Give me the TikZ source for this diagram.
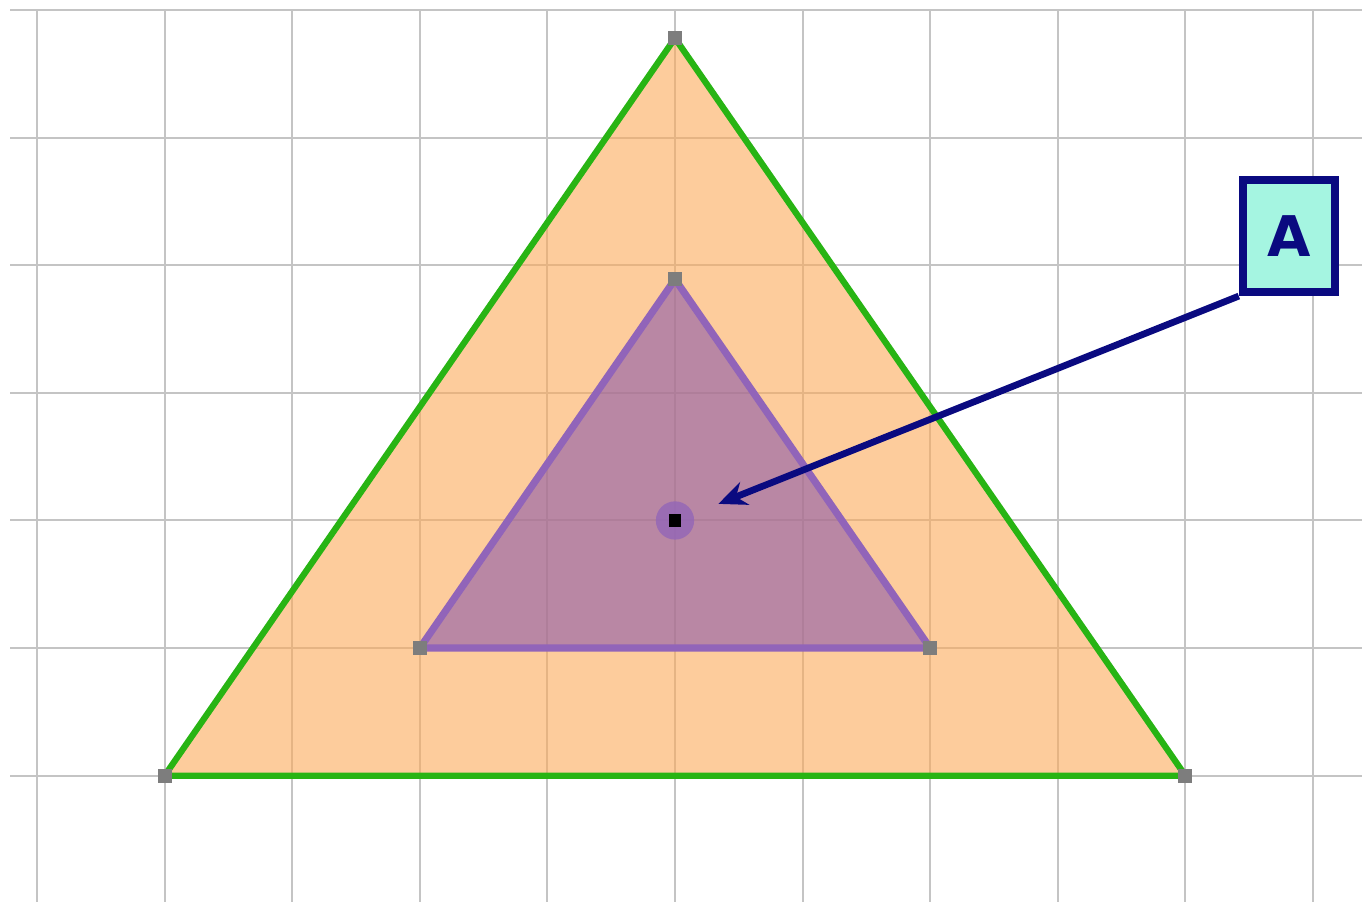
\documentclass[tikz,border=0pt]{standalone}
\usepackage{fontspec}
\newfontfamily\labelfont{DejaVu Sans}
\usetikzlibrary{arrows.meta,calc}
\definecolor{GridGrey}{RGB}{196,196,196}
\definecolor{PeachFill}{RGB}{252,170,90}
\definecolor{EdgeGreen}{RGB}{40,180,20}
\definecolor{MauveFill}{RGB}{140,90,170}
\definecolor{MauveEdge}{RGB}{145,100,185}
\definecolor{NavyLine}{RGB}{10,10,128}
\definecolor{AquaBox}{RGB}{165,245,225}
\definecolor{VertexGrey}{RGB}{125,125,125}

\begin{document}
\begin{tikzpicture}[x=1cm, y=1cm,
  gridline/.style={GridGrey, line width=0.45pt},
  vertex/.style={fill=VertexGrey, minimum size=0.11cm, inner sep=0pt},
  every node/.style={font=\labelfont\bfseries\fontsize{12.5}{13}\selectfont}]
  \useasboundingbox (-0.29,-0.99) rectangle (10.384,6.079);
  % grid
  \foreach \x in {0,...,10} \draw[gridline] (\x,-0.99) -- (\x,6);
  \foreach \y in {0,...,6} \draw[gridline] (-0.21,\y) -- (10.384,\y);
  % outer triangle
  \coordinate (o1) at (1,0);
  \coordinate (o2) at (9,0);
  \coordinate (o3) at (5,5.78);
  \filldraw[fill=PeachFill, fill opacity=0.6, draw=EdgeGreen, line width=1.4pt, line join=round] (o1) -- (o2) -- (o3) -- cycle;
  % inner triangle
  \coordinate (i1) at (3,1);
  \coordinate (i2) at (7,1);
  \coordinate (i3) at (5,3.89);
  \filldraw[fill=MauveFill, fill opacity=0.6, draw=MauveEdge, line width=1.6pt, line join=round] (i1) -- (i2) -- (i3) -- cycle;
  \foreach \v in {o1,o2,o3,i1,i2,i3} \node[vertex] at (\v) {};
  % centre point
  \node[circle, fill=MauveEdge, fill opacity=0.75, minimum size=0.3cm, inner sep=0pt] (centre) at (5,2) {};
  \node[fill=black, minimum size=0.1cm, inner sep=0pt] at (centre) {};
  % label
  \node[draw=NavyLine, line width=1.8pt, fill=AquaBox, text=NavyLine, minimum width=0.72cm, minimum height=0.88cm, inner sep=0pt] (boxA) at (9.81,4.23) {A};
  \coordinate (tip) at (5.34,2.13);
  \draw[-{Stealth[length=2.2mm, width=1.9mm]}, NavyLine, line width=1.5pt] (boxA.south west) -- (tip);
\end{tikzpicture}
\end{document}
